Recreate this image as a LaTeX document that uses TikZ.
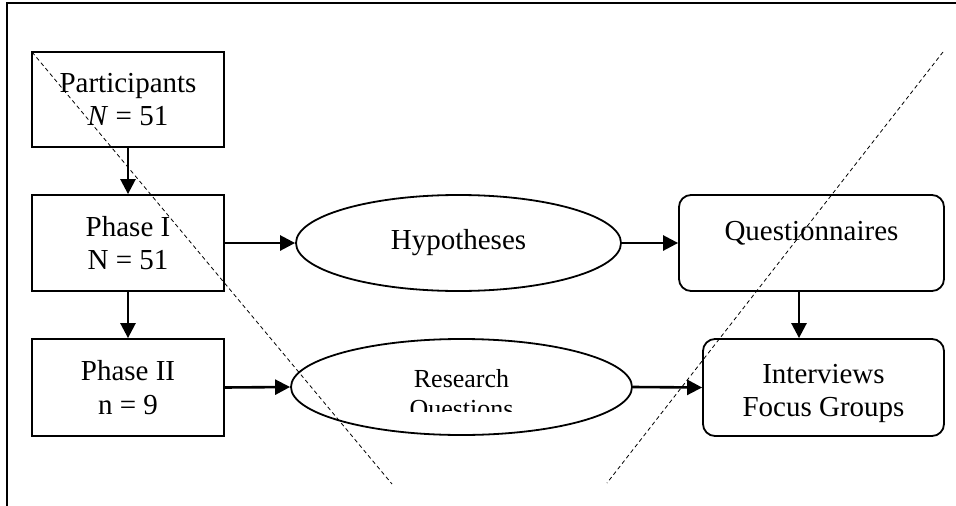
\documentclass[tikz,border=0pt]{standalone}
\usepackage{fontspec}
\setmainfont{Liberation Serif}
\usetikzlibrary{shapes.geometric,arrows.meta}

\begin{document}
\begin{tikzpicture}[x=1pt,y=-1pt,every node/.style={inner sep=0pt},
  box/.style={draw,line width=1.8pt,align=center,font=\fontsize{29}{33.5}\selectfont},
  rbox/.style={box,rounded corners=12pt},
  oval/.style={draw,line width=1.8pt,ellipse,align=center,font=\fontsize{29}{33.5}\selectfont},
  arr/.style={line width=2.6pt,-{Triangle[length=15pt,width=15pt]}},
  guide/.style={line width=0.8pt,dash pattern=on 4pt off 3pt}]
\useasboundingbox (0,0) rectangle (956,506);
\draw[line width=1.8pt] (7,506) -- (7,3) -- (956,3);
\node[box,minimum width=192pt,minimum height=95pt](part) at (128,99.5){Participants\\\textit{N} = 51} ;
\node[box,minimum width=192pt,minimum height=96pt](ph1) at (128,243){Phase I\\N = 51} ;
\node[box,minimum width=192pt,minimum height=97pt](ph2) at (128,387.5){Phase II\\n = 9} ;
\node[oval,minimum width=325pt,minimum height=96pt](hyp) at (458.5,243){Hypotheses} ;
\node[oval,minimum width=341pt,minimum height=96pt](rq) at (461.5,387){} ;
\begin{scope}
\clip (291,339) rectangle (632,411);
\node[align=center,font=\fontsize{26}{30}\selectfont](rqtext) at (461.5,396){Research\\Questions} ;
\end{scope}
\node[rbox,minimum width=265pt,minimum height=96pt,text height=20pt,text depth=26pt](quest) at (811.5,243){Questionnaires} ;
\node[rbox,minimum width=241pt,minimum height=97pt,text height=64pt,text depth=6pt](inter) at (823.5,387.5){Interviews\\Focus Groups} ;
\coordinate (qi) at (799,0);
\draw[arr] (part) -- (ph1);
\draw[arr] (ph1) -- (ph2);
\draw[arr] (ph1) -- (hyp);
\draw[arr] (hyp) -- (quest);
\draw[arr] (ph2.east) -- (rq.west);
\draw[arr] (rq.east) -- (inter.west);
\draw[arr] (quest.south -| qi) -- (inter.north -| qi);
\draw[guide] (32,52) -- (392,484);
\draw[guide] (943,52) -- (607,483);
\end{tikzpicture}
\end{document}
